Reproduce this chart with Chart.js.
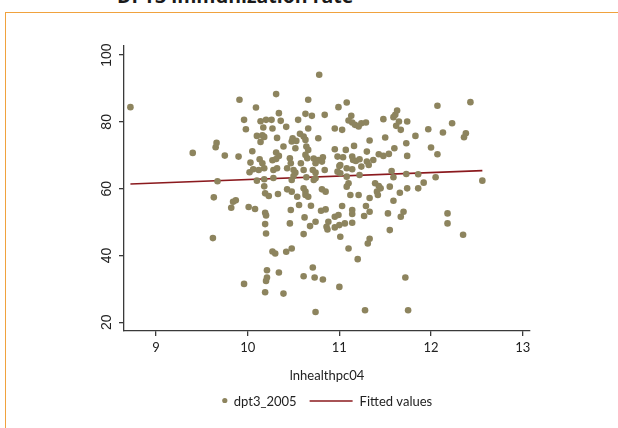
<!DOCTYPE html>
<html>
<head>
<meta charset="utf-8">
<script src="https://cdn.jsdelivr.net/npm/chart.js@4/dist/chart.umd.min.js"></script>
<style>
  html, body { margin: 0; padding: 0; background: #ffffff; overflow: hidden; }
  #stage { position: relative; width: 618px; height: 428px; overflow: hidden; background: #fff; }
  #frame { position: absolute; left: 5px; top: 12px; right: -2px; bottom: -2px;
           border-top: 1.6px solid #F0A23E; border-left: 1.6px solid #F0A23E; }
  #title { position: absolute; left: 117px; top: -12.6px; margin: 0;
           font: bold 19.5px "Open Sans", Lato, sans-serif; line-height: 18px; color: #1a1a1a; white-space: nowrap; }
  #wrap { position: absolute; left: 0; top: 0; width: 618px; height: 428px; }
</style>
</head>
<body>
<div id="stage">
  <div id="frame"></div>
  <div id="title">DPT3 immunization rate</div>
  <div id="wrap"><canvas id="c" width="618" height="428"></canvas></div>
</div>
<script>
// log health spending per capita, 2004
const lnhealthpc04 = [
  8.72, 9.40, 9.62, 9.63, 9.65, 9.66, 9.67, 9.75, 9.82, 9.84, 9.87, 9.90, 9.91, 9.96, 9.96, 9.98,
  10.01, 10.02, 10.03, 10.05, 10.06, 10.08, 10.09, 10.10, 10.10, 10.12, 10.13, 10.16, 10.14, 10.14,
  10.16, 10.18, 10.17, 10.18, 10.18, 10.18, 10.19, 10.23, 10.19, 10.20, 10.19, 10.20, 10.21, 10.21,
  10.20, 10.19, 10.20, 10.26, 10.27, 10.32, 10.27, 10.31, 10.34, 10.31, 10.28, 10.28, 10.32, 10.33,
  10.31, 10.34, 10.36, 10.27, 10.30, 10.34, 10.39, 10.39, 10.42, 10.43, 10.43, 10.42, 10.48, 10.46,
  10.47, 10.48, 10.49, 10.53, 10.52, 10.50, 10.52, 10.48, 10.50, 10.48, 10.54, 10.47, 10.46, 10.55,
  10.57, 10.61, 10.63, 10.58, 10.61, 10.63, 10.64, 10.66, 10.63, 10.65, 10.64, 10.61, 10.63, 10.63,
  10.66, 10.56, 10.62, 10.61, 10.61, 10.66, 10.66, 10.69, 10.68, 10.70, 10.72, 10.77, 10.82, 10.74,
  10.81, 10.71, 10.74, 10.72, 10.74, 10.77, 10.78, 10.84, 10.84, 10.81, 10.85, 10.74, 10.80, 10.85,
  10.88, 10.86, 10.87, 10.71, 10.73, 10.82, 10.74, 10.95, 10.95, 10.99, 11.00, 10.98, 11.04, 11.01,
  11.01, 10.98, 10.95, 10.99, 11.00, 10.95, 11.01, 11.00, 11.03, 11.03, 11.08, 11.07, 11.08, 11.08,
  11.10, 11.08, 11.06, 11.10, 11.13, 11.10, 11.14, 11.17, 11.21, 11.24, 11.29, 11.16, 11.14, 11.15,
  11.18, 11.22, 11.14, 11.24, 11.22, 11.21, 11.12, 11.14, 11.14, 11.14, 11.20, 11.30, 11.30, 11.32,
  11.33, 11.33, 11.29, 11.33, 11.27, 11.33, 11.31, 11.28, 11.37, 11.39, 11.43, 11.45, 11.41, 11.42,
  11.43, 11.48, 11.54, 11.48, 11.50, 11.57, 11.59, 11.55, 11.59, 11.53, 11.55, 11.60, 11.59, 11.61,
  11.63, 11.65, 11.62, 11.74, 11.67, 11.73, 11.74, 11.73, 11.74, 11.66, 11.70, 11.67, 11.72, 11.75,
  11.83, 11.86, 11.86, 11.92, 11.97, 12.00, 12.07, 12.07, 12.05, 12.13, 12.23, 12.18, 12.18, 12.35,
  12.38, 12.36, 12.43, 12.56
];

// DPT3 immunization rate, 2005 (%)
const dpt3_2005 = [
  84.4, 70.7, 45.2, 57.4, 72.4, 73.7, 62.2, 69.9, 54.3, 56.1, 56.5, 69.6, 86.6, 80.6, 31.5, 77.8,
  54.5, 64.9, 67.8, 71.2, 65.8, 53.9, 84.3, 75.8, 62.4, 65.6, 68.8, 67.6, 80.2, 74.0,
  76.0, 75.5, 78.3, 66.1, 62.8, 60.7, 58.6, 57.8, 52.8, 52.0, 49.4, 46.6, 35.6, 33.4,
  32.4, 29.0, 80.6, 80.6, 78.0, 75.2, 68.5, 70.8, 69.8, 68.9, 63.2, 65.6, 66.1, 58.4,
  88.3, 82.6, 80.3, 41.2, 40.6, 34.9, 28.6, 72.6, 78.5, 66.1, 59.8, 41.1, 42.1, 69.1,
  67.6, 74.1, 75.1, 74.3, 72.1, 65.6, 64.8, 62.6, 63.8, 59.1, 57.6, 53.6, 49.6, 80.6,
  76.4, 75.6, 74.6, 67.6, 65.6, 82.4, 72.6, 71.6, 70.1, 69.1, 63.4, 60.1, 59.1, 58.1,
  57.6, 55.1, 51.4, 46.4, 33.8, 86.6, 78.0, 54.9, 48.8, 81.8, 69.0, 68.6, 69.4, 67.6,
  68.1, 65.6, 64.8, 62.6, 63.1, 75.1, 94.1, 82.1, 65.6, 59.8, 59.1, 50.1, 53.4, 53.8,
  50.1, 48.6, 47.8, 36.4, 33.4, 32.8, 23.1, 78.0, 71.8, 84.4, 66.8, 69.6, 69.4, 67.1,
  64.6, 65.1, 51.6, 52.1, 49.1, 48.4, 45.6, 30.6, 54.8, 77.6, 85.8, 71.6, 66.1, 63.6,
  61.6, 60.6, 49.6, 42.1, 81.8, 80.4, 79.8, 79.1, 78.6, 79.6, 79.8, 72.8, 69.6, 68.6,
  68.3, 68.8, 65.8, 66.6, 64.1, 58.1, 58.1, 53.6, 52.4, 49.8, 38.9, 71.1, 68.1, 67.1,
  74.4, 57.2, 54.8, 53.1, 51.8, 45.0, 43.6, 23.6, 68.6, 61.6, 60.8, 60.1, 59.1, 58.1,
  70.3, 69.8, 70.4, 80.8, 75.3, 65.3, 63.4, 60.6, 56.4, 52.6, 47.6, 72.1, 81.4, 82.1,
  83.4, 80.1, 78.8, 80.1, 77.6, 73.6, 69.8, 64.4, 60.1, 58.8, 53.1, 51.6, 33.4, 23.6,
  75.8, 64.3, 60.1, 61.8, 77.8, 72.3, 84.8, 70.3, 63.4, 76.8, 79.6, 52.6, 49.6, 46.2,
  76.6, 75.4, 85.9, 62.4
];

// linear fit of dpt3_2005 on lnhealthpc04, at the ends of the observed range
const fitX = [8.72, 12.56];
const fitY = [61.4, 65.4];

// axis ticks
const xTicks = [9, 10, 11, 12, 13];
const yTicks = [20, 40, 60, 80, 100];

const seriesLabels = ['dpt3_2005', 'Fitted values'];
const xTitle = 'lnhealthpc04';

const dotColor = '#8D845E';
const fitColor = '#8B1A1E';
const axisColor = '#3a3a3a';
const uiFont = 'Lato, "Open Sans", sans-serif';
const yTickFont = '14px "Liberation Sans", Arial, sans-serif';

const scatterPoints = lnhealthpc04.map((x, i) => ({ x: x, y: dpt3_2005[i] }));
const fitPoints = fitX.map((x, i) => ({ x: x, y: fitY[i] }));

// Vertical y tick labels, reading bottom to top, centred on each tick
const yLabelPlugin = {
  id: 'verticalYLabels',
  afterDraw(chart) {
    const ctx = chart.ctx;
    const ys = chart.scales.y;
    ctx.save();
    ctx.font = yTickFont;
    ctx.fillStyle = '#222';
    ctx.textAlign = 'center';
    ctx.textBaseline = 'middle';
    const cx = ys.right - 17;
    yTicks.forEach(v => {
      const py = ys.getPixelForValue(v);
      ctx.save();
      ctx.translate(cx, py);
      ctx.rotate(-Math.PI / 2);
      ctx.fillText(String(v), 0, 0);
      ctx.restore();
    });
    ctx.restore();
  }
};

// Legend beneath the x-axis title: a dot for the scatter, a short rule for the fit
const keyPlugin = {
  id: 'bottomKey',
  afterDraw(chart) {
    const ctx = chart.ctx;
    const area = chart.chartArea;
    ctx.save();
    ctx.font = '13px ' + uiFont;
    ctx.textBaseline = 'middle';
    const y = 402;
    const dotW = 6, gap1 = 6, gap2 = 13, lineW = 43, gap3 = 7;
    const w1 = ctx.measureText(seriesLabels[0]).width;
    const w2 = ctx.measureText(seriesLabels[1]).width;
    const total = dotW + gap1 + w1 + gap2 + lineW + gap3 + w2;
    let x = (area.left + area.right) / 2 - total / 2;
    ctx.beginPath();
    ctx.arc(x + dotW / 2, y - 1.5, 2.6, 0, Math.PI * 2);
    ctx.fillStyle = dotColor;
    ctx.fill();
    x += dotW + gap1;
    ctx.fillStyle = '#222';
    ctx.fillText(seriesLabels[0], x, y);
    x += w1 + gap2;
    ctx.beginPath();
    ctx.moveTo(x, y - 1);
    ctx.lineTo(x + lineW, y - 1);
    ctx.strokeStyle = fitColor;
    ctx.lineWidth = 1.5;
    ctx.stroke();
    x += lineW + gap3;
    ctx.fillText(seriesLabels[1], x, y);
    ctx.restore();
  }
};

new Chart(document.getElementById('c'), {
  type: 'scatter',
  data: {
    datasets: [
      {
        label: seriesLabels[0],
        data: scatterPoints,
        backgroundColor: dotColor,
        borderColor: dotColor,
        borderWidth: 0,
        pointRadius: 3.3,
        pointHoverRadius: 3.3
      },
      {
        type: 'line',
        label: seriesLabels[1],
        data: fitPoints,
        borderColor: fitColor,
        borderWidth: 1.6,
        pointRadius: 0,
        fill: false,
        tension: 0
      }
    ]
  },
  options: {
    responsive: false,
    animation: false,
    events: [],
    layout: { padding: { left: 0, right: 88, top: 46, bottom: 44 } },
    plugins: {
      legend: { display: false },
      tooltip: { enabled: false },
      title: { display: false }
    },
    scales: {
      x: {
        type: 'linear',
        min: 8.65,
        max: 13.08,
        afterFit(scale) { scale.height = 53; },
        afterBuildTicks(scale) { scale.ticks = xTicks.map(v => ({ value: v })); },
        border: { display: true, color: axisColor, width: 1.3 },
        grid: { display: true, drawOnChartArea: false, drawTicks: true, tickLength: 5, color: axisColor, lineWidth: 1.3 },
        ticks: { color: '#222', font: { family: uiFont, size: 13 }, padding: 4, maxRotation: 0 },
        title: { display: true, text: xTitle, color: '#222', font: { family: uiFont, size: 13 }, padding: { top: 4, bottom: 0 } }
      },
      y: {
        type: 'linear',
        min: 17.4,
        max: 102.7,
        afterFit(scale) { scale.width = 124; },
        afterBuildTicks(scale) { scale.ticks = yTicks.map(v => ({ value: v })); },
        border: { display: true, color: axisColor, width: 1.3 },
        grid: { display: true, drawOnChartArea: false, drawTicks: true, tickLength: 5, color: axisColor, lineWidth: 1.3 },
        ticks: { display: false }
      }
    }
  },
  plugins: [yLabelPlugin, keyPlugin]
});
</script>
</body>
</html>
